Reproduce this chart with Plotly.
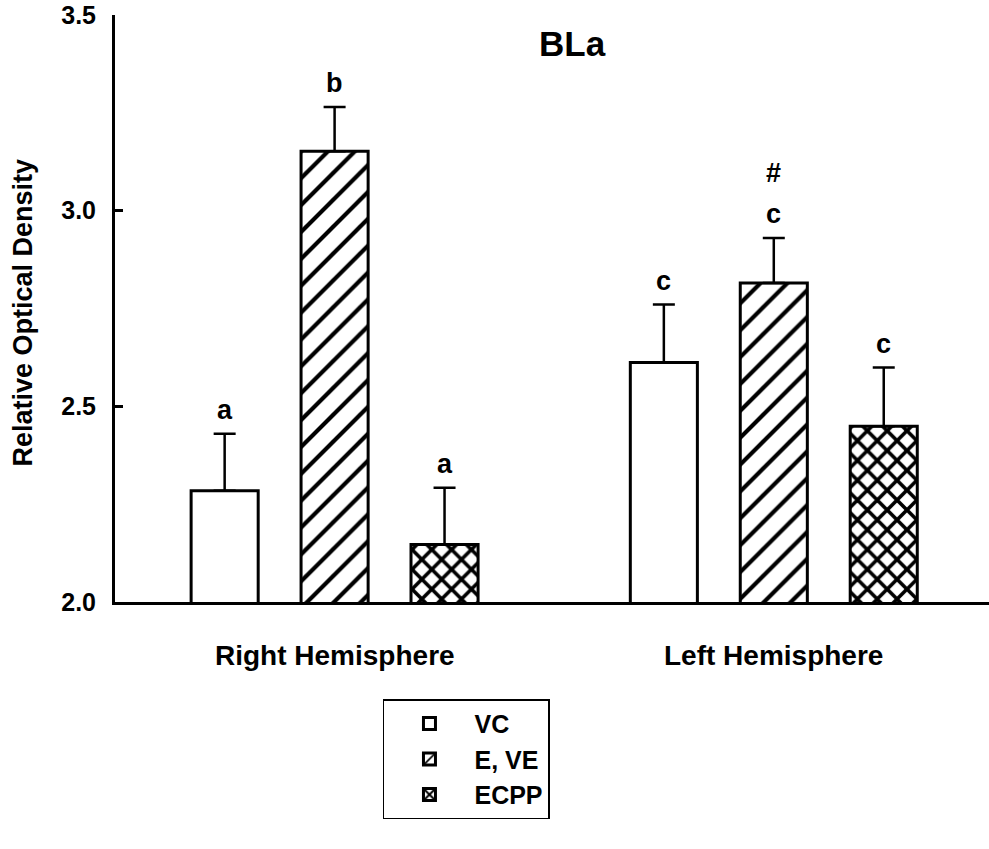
import plotly.graph_objects as go

groups = ["Right Hemisphere", "Left Hemisphere"]
series = ["VC", "E, VE", "ECPP"]
vc_mean = [2.284, 2.612]
vc_sem = [0.146, 0.148]
eve_mean = [3.152, 2.815]
eve_sem = [0.113, 0.115]
ecpp_mean = [2.147, 2.449]
ecpp_sem = [0.145, 0.150]
letters = {"VC": ["a", "c"], "E, VE": ["b", "c"], "ECPP": ["a", "c"]}
marks = {"VC": ["", ""], "E, VE": ["", "#"], "ECPP": ["", ""]}
y_ticks = [2.0, 2.5, 3.0, 3.5]

FONT = "Liberation Sans"
means = [vc_mean, eve_mean, ecpp_mean]
sems = [vc_sem, eve_sem, ecpp_sem]
patterns = ["", "/", "x"]
psizes = [10, 19, 14]
psolid = [0.2, 0.22, 0.45]

fig = go.Figure()
for i, name in enumerate(series):
    fig.add_trace(go.Bar(
        x=groups, y=means[i], name=name, legendgroup=name,
        marker=dict(color="white", line=dict(color="black", width=3),
                    pattern=dict(shape=patterns[i], fgcolor="black", bgcolor="white",
                                 fgopacity=1, size=psizes[i], solidity=psolid[i],
                                 fillmode="overlay")),
        error_y=dict(type="data", array=sems[i], arrayminus=[0] * len(groups), symmetric=False,
                     color="black", thickness=2.5, width=11),
    ))

slot = 110
annotations = []
for i, name in enumerate(series):
    for j, g in enumerate(groups):
        top = means[i][j] + sems[i][j]
        annotations.append(dict(x=g, y=top, xref="x", yref="y", text="<b>%s</b>" % letters[name][j],
                                showarrow=False, xshift=(i - 1) * slot, yanchor="bottom", yshift=7,
                                font=dict(family=FONT, size=27, color="black")))
        if marks[name][j]:
            annotations.append(dict(x=g, y=top, xref="x", yref="y", text="<b>%s</b>" % marks[name][j],
                                    showarrow=False, xshift=(i - 1) * slot, yanchor="bottom", yshift=48,
                                    font=dict(family=FONT, size=27, color="black")))
for g in groups:
    annotations.append(dict(x=g, y=-0.091, xref="x", yref="paper", text="<b>%s</b>" % g,
                            showarrow=False, yanchor="middle",
                            font=dict(family=FONT, size=28, color="black")))
annotations.append(dict(x=0.524, y=0.952, xref="paper", yref="paper", text="<b>BLa</b>",
                        showarrow=False, yanchor="middle", xanchor="center",
                        font=dict(family=FONT, size=35, color="black")))
annotations.append(dict(x=-0.105, y=0.4935, xref="paper", yref="paper",
                        text="<b>Relative Optical Density</b>", textangle=-90,
                        showarrow=False, yanchor="middle", xanchor="center",
                        font=dict(family=FONT, size=27, color="black")))

fig.update_layout(
    width=989, height=849,
    margin=dict(l=115, r=0, t=15, b=247),
    paper_bgcolor="white", plot_bgcolor="white",
    barmode="group", bargap=0.249, bargroupgap=0.39,
    showlegend=True,
    legend=dict(x=0.3066, y=-0.1658, xanchor="left", yanchor="top",
                bordercolor="black", borderwidth=1.5, bgcolor="white",
                font=dict(family=FONT, size=25, color="black", weight="bold"),
                tracegroupgap=6, itemwidth=80, traceorder="normal"),
    annotations=annotations,
    xaxis=dict(range=[-0.5, 1.49], showticklabels=False, ticks="", showline=True,
               linecolor="black", linewidth=3, showgrid=False, zeroline=False),
    yaxis=dict(range=[2.0, 3.5], tickvals=y_ticks, ticktext=["%.1f" % v for v in y_ticks],
               ticks="inside", ticklen=8, tickwidth=2.5, tickcolor="black",
               showline=True, linecolor="black", linewidth=3, showgrid=False, zeroline=False,
               ticklabelstandoff=11,
               tickfont=dict(family=FONT, size=25, color="black", weight="bold")),
)

fig.write_html("out.html")
